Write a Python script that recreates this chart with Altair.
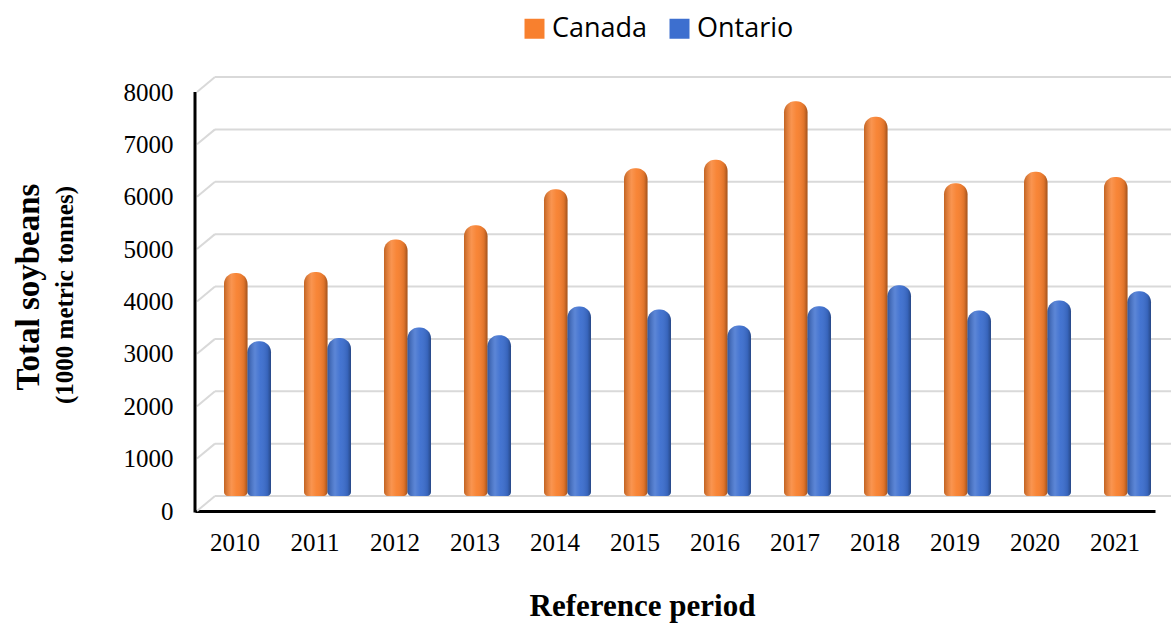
import altair as alt
import pandas as pd

# Soybean production, thousand metric tonnes
years = ["2010", "2011", "2012", "2013", "2014", "2015",
         "2016", "2017", "2018", "2019", "2020", "2021"]
canada = [4450, 4470, 5090, 5360, 6050, 6450, 6610, 7730, 7430, 6160, 6380, 6280]
ontario = [3145, 3210, 3410, 3260, 3810, 3750, 3445, 3815, 4215, 3735, 3925, 4100]
regions = ["Canada", "Ontario"]
region_colors = ["#F8802E", "#3D6FCF"]
y_ticks = [0, 1000, 2000, 3000, 4000, 5000, 6000, 7000, 8000]

bars_df = pd.DataFrame({
    "year": years * 2,
    "region": ["Canada"] * len(years) + ["Ontario"] * len(years),
    "value": canada + ontario,
})
grid_df = pd.DataFrame({"v": y_ticks})
one_row = pd.DataFrame({"k": [0]})
title_lines = pd.DataFrame({"line": ["Total soybeans", "(1000 metric tonnes)"]})

SERIF = "Liberation Serif"
y_scale = alt.Scale(domain=[0, 8000], nice=False)

# One shared left axis: labels sit on the front plane, 15 px below the back-wall grid
y_axis = alt.Axis(
    values=y_ticks, format="d", title=None, grid=False, domain=False, ticks=False,
    labelOffset=15, labelPadding=22,
    labelFont=SERIF, labelFontSize=25, labelColor="black",
)

# Back-wall gridlines plus the short slanted side-wall segments
grid_h = alt.Chart(grid_df).mark_rule(color="#D9D9D9", strokeWidth=2).encode(
    y=alt.Y("v:Q", scale=y_scale, axis=y_axis),
    x=alt.value(20),
    x2=alt.value(976),
)
grid_side = alt.Chart(grid_df).transform_calculate(
    front="datum.v - 286"
).mark_rule(color="#D9D9D9", strokeWidth=2).encode(
    x=alt.value(2),
    y=alt.Y("front:Q", scale=y_scale, axis=y_axis),
    x2=alt.value(20),
    y2=alt.Y2("v:Q"),
)

x_enc = alt.X(
    "year:N",
    sort=years,
    scale=alt.Scale(paddingInner=0, paddingOuter=0),
    axis=alt.Axis(
        title="Reference period",
        titleFont=SERIF, titleFontSize=31, titleFontWeight="bold", titleColor="black",
        titleX=447, titleY=104, titleAlign="center", titleBaseline="alphabetic",
        labelFont=SERIF, labelFontSize=25, labelColor="black", labelAngle=0,
        labelPadding=19, ticks=False, offset=15,
        domainColor="black", domainWidth=3,
    ),
)
xoff_enc = alt.XOffset(
    "region:N", sort=regions,
    scale=alt.Scale(range=[29, 76], paddingInner=0, paddingOuter=0),
)
y_enc = alt.Y("value:Q", scale=y_scale, axis=y_axis, stack=None)

bar_style = dict(
    cornerRadiusTopLeft=11, cornerRadiusTopRight=11,
    cornerRadiusBottomLeft=4, cornerRadiusBottomRight=4,
    yOffset=10,
)

bars = alt.Chart(bars_df).mark_bar(**bar_style).encode(
    x=x_enc,
    xOffset=xoff_enc,
    y=y_enc,
    color=alt.Color(
        "region:N", sort=regions,
        scale=alt.Scale(domain=regions, range=region_colors),
        legend=alt.Legend(
            title=None, orient="none", direction="horizontal",
            legendX=326, legendY=-62,
            symbolType="square", symbolSize=400, symbolStrokeWidth=0,
            labelFont="Open Sans", labelFontSize=27, labelColor="black",
            labelOffset=4, columnPadding=18,
        ),
    ),
)

# Cylinder shading laid over the solid bars
shade = alt.LinearGradient(
    gradient="linear", x1=0, x2=1, y1=0, y2=0,
    stops=[
        alt.GradientStop(color="rgba(0,0,0,0.22)", offset=0),
        alt.GradientStop(color="rgba(255,255,255,0.16)", offset=0.32),
        alt.GradientStop(color="rgba(255,255,255,0.04)", offset=0.55),
        alt.GradientStop(color="rgba(0,0,0,0.10)", offset=0.85),
        alt.GradientStop(color="rgba(0,0,0,0.35)", offset=1),
    ],
)
bars_shade = alt.Chart(bars_df).mark_bar(fill=shade, **bar_style).encode(
    x=x_enc,
    xOffset=xoff_enc,
    y=y_enc,
)

# Front vertical axis line
axis_left = alt.Chart(one_row).mark_rule(color="black", strokeWidth=3).encode(
    x=alt.value(0), y=alt.value(15), y2=alt.value(435.5),
)

title_main = alt.Chart(title_lines.iloc[[0]]).mark_text(
    angle=270, font=SERIF, fontWeight="bold", fontSize=33,
    align="center", baseline="middle", color="black",
).encode(x=alt.value(-166), y=alt.value(210), text="line:N")

title_unit = alt.Chart(title_lines.iloc[[1]]).mark_text(
    angle=270, font=SERIF, fontWeight="bold", fontSize=25,
    align="center", baseline="middle", color="black",
).encode(x=alt.value(-130), y=alt.value(218), text="line:N")

chart = alt.layer(
    grid_h, grid_side, bars, bars_shade, axis_left, title_main, title_unit
).properties(
    width=960, height=419,
    autosize="none",
    padding={"left": 195, "top": 77, "right": 16, "bottom": 132},
    background="white",
).configure_view(stroke=None)

chart.save("out.html", embed_options={"renderer": "svg", "actions": False})
